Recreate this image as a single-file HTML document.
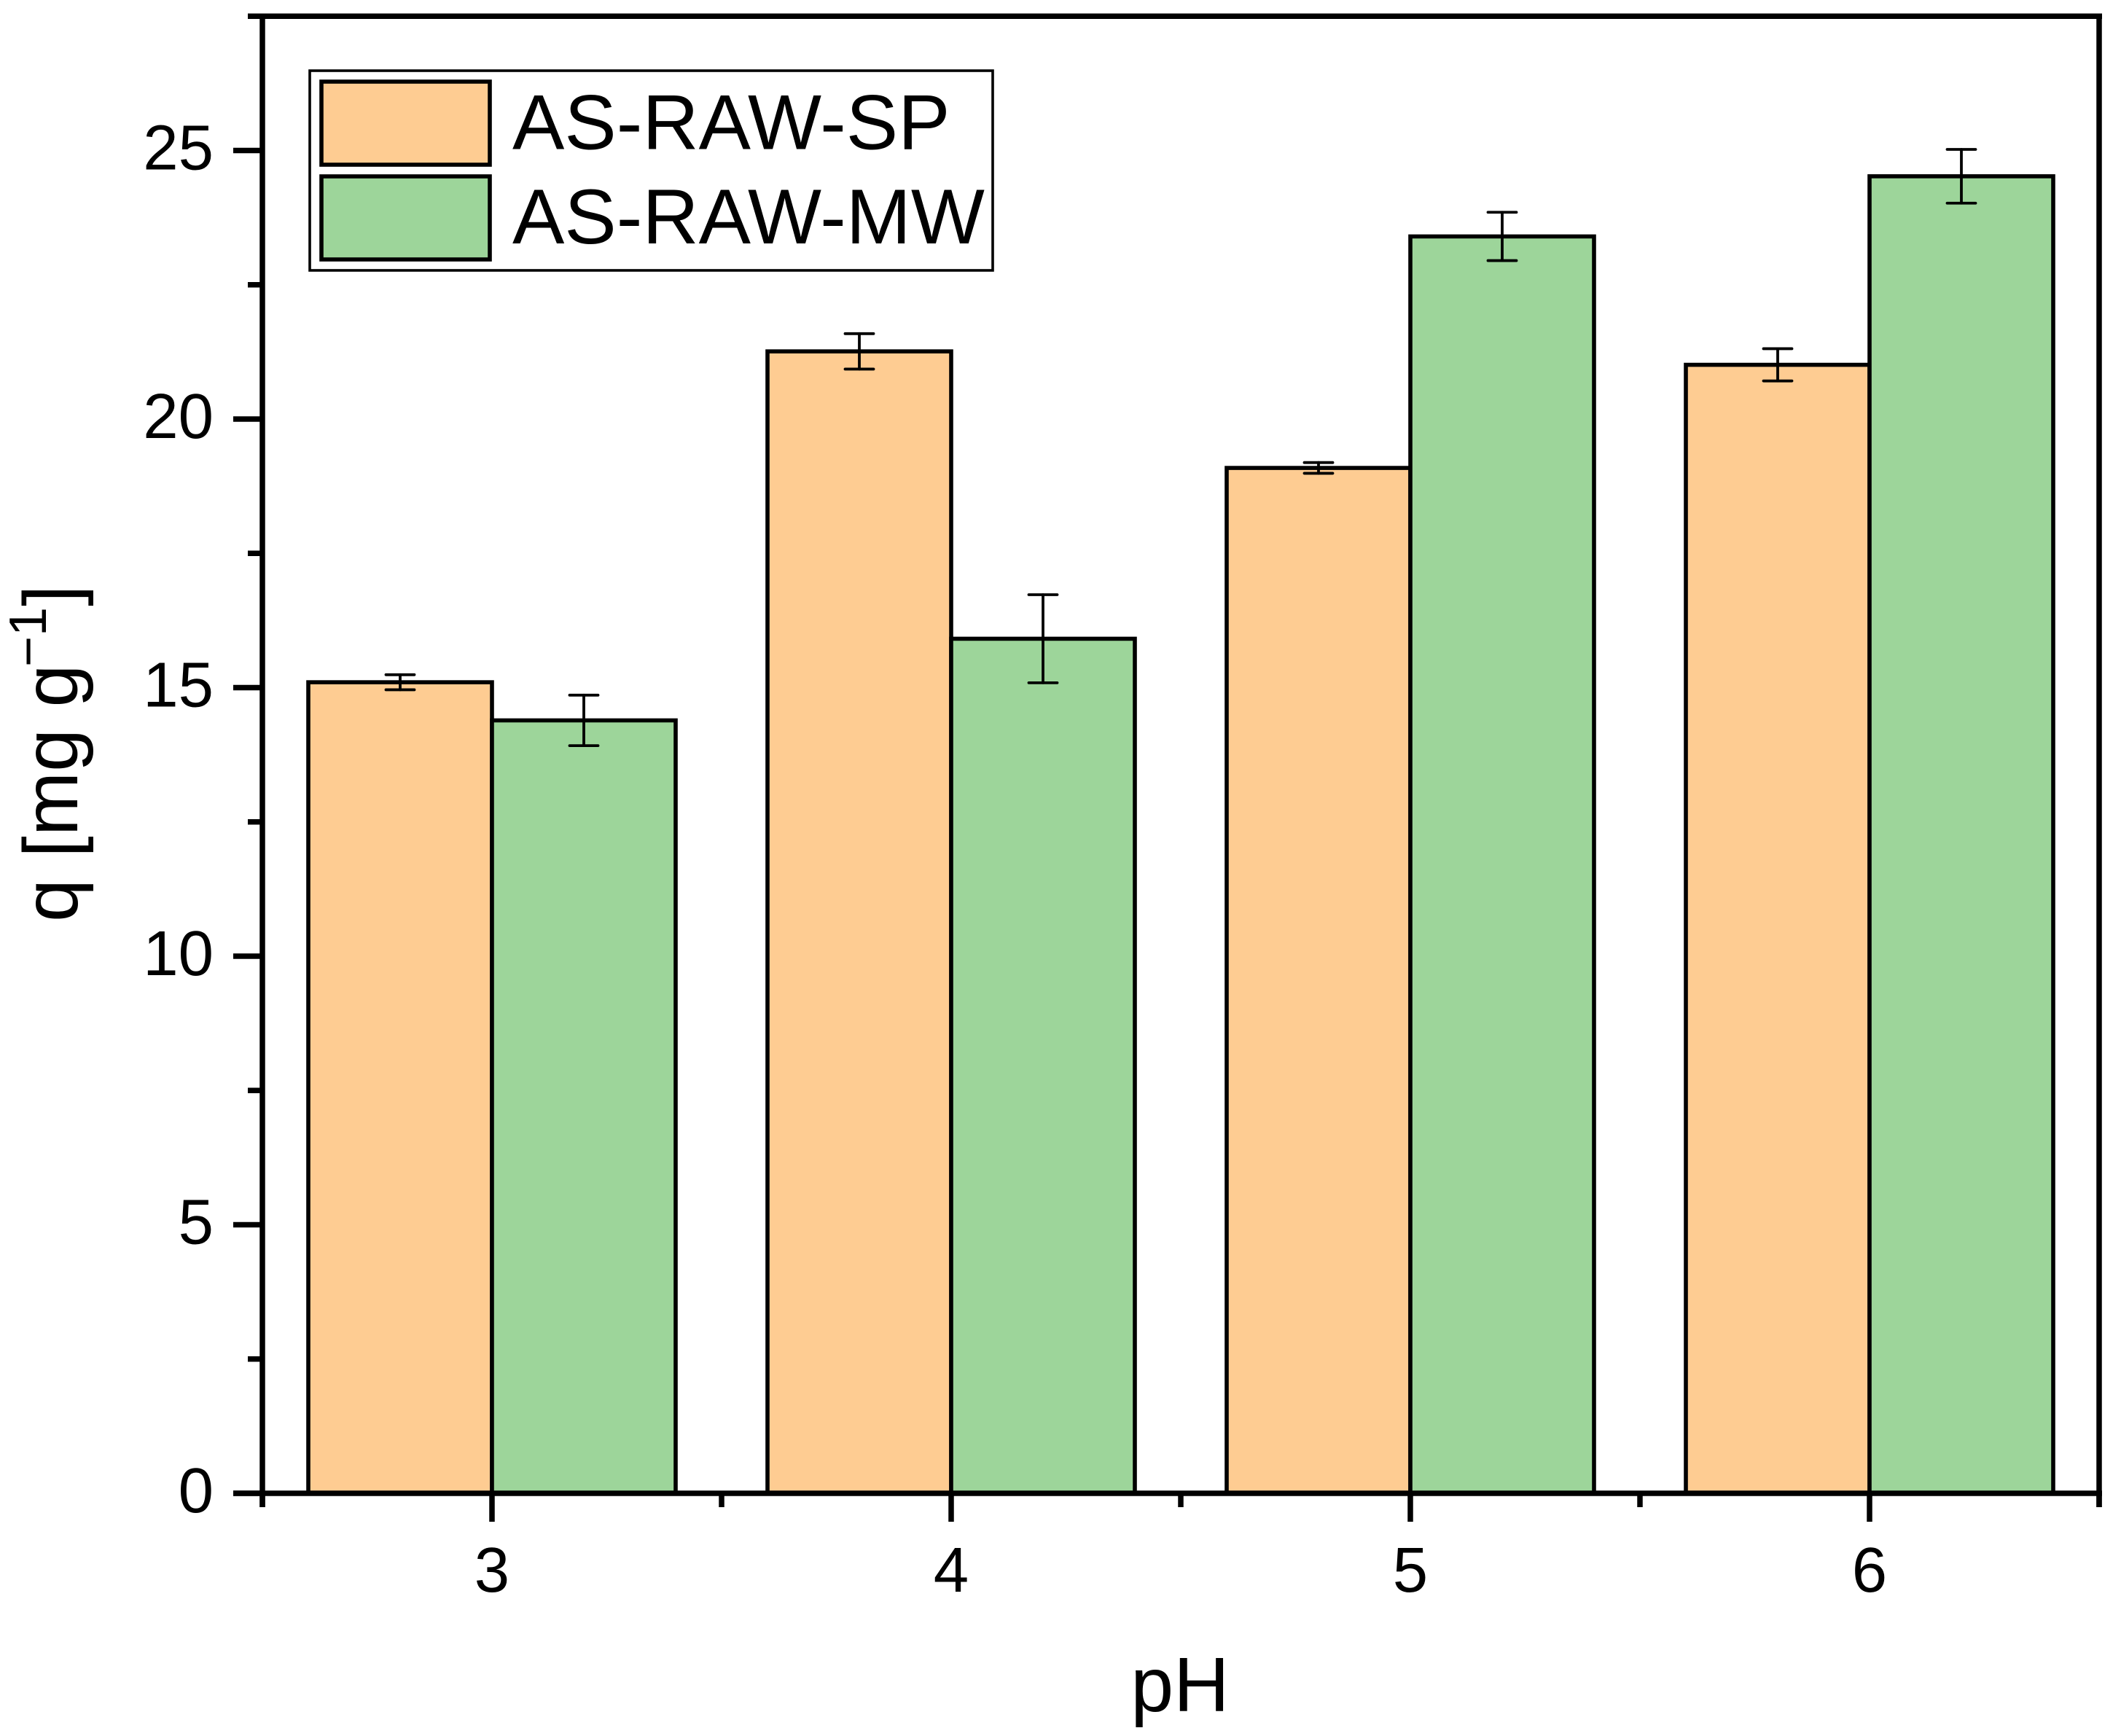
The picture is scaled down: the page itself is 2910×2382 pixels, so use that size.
<!DOCTYPE html>
<html lang="en">
<head>
<meta charset="utf-8">
<title>q vs pH bar chart</title>
<style>
html,body{margin:0;padding:0;background:#fff;}
svg{display:block;}
text{font-family:"Liberation Sans",Arial,sans-serif;fill:#000;}
</style>
</head>
<body>
<svg id="chart" xmlns="http://www.w3.org/2000/svg" width="2910" height="2382" viewBox="0 0 2910 2382">
  <rect x="0" y="0" width="2910" height="2382" fill="#ffffff"/>
  <g id="bars"></g>
  <g id="errors"></g>
  <g id="axes"></g>
  <g id="legend"></g>
  <text x="1619" y="2348" font-size="106" text-anchor="middle">pH</text>
  <g transform="translate(106,1265) rotate(-90)">
    <text x="0" y="0" font-size="106">q [mg g</text>
    <text x="350" y="-43" font-size="72">&#8722;1</text>
    <text x="433" y="0" font-size="106">]</text>
  </g>
</svg>
<script>
var categories = [3, 4, 5, 6];
var seriesNames = ['AS-RAW-SP', 'AS-RAW-MW'];
var spValues = [15.10, 21.26, 19.09, 21.01];
var spErrors = [0.14, 0.33, 0.10, 0.30];
var mwValues = [14.39, 15.91, 23.40, 24.52];
var mwErrors = [0.47, 0.82, 0.45, 0.50];
var yMajorTicks = [0, 5, 10, 15, 20, 25];
var yMinorTicks = [2.5, 7.5, 12.5, 17.5, 22.5, 27.5];
var xMinorTicks = [2.5, 3.5, 4.5, 5.5, 6.5];

var NS = 'http://www.w3.org/2000/svg';
var ORANGE = '#FECC92';
var GREEN = '#9DD59A';

function xScale(v) { return 675 + (v - 3) * 630; }
function yScale(v) { return 2049 - v * 73.7; }

function make(parent, tag, attrs) {
  var el = document.createElementNS(NS, tag);
  for (var k in attrs) { el.setAttribute(k, attrs[k]); }
  parent.appendChild(el);
  return el;
}

var barsLayer = document.getElementById('bars');
var errorsLayer = document.getElementById('errors');
var axesLayer = document.getElementById('axes');
var legendLayer = document.getElementById('legend');

var BAR_UNITS = 0.4;

function drawSeries(values, errors, color, offsetSign, key) {
  categories.forEach(function (cat, i) {
    var x0 = xScale(cat + (offsetSign < 0 ? -BAR_UNITS : 0));
    var x1 = xScale(cat + (offsetSign < 0 ? 0 : BAR_UNITS));
    var yTop = yScale(values[i]);
    var bar = make(barsLayer, 'rect', {
      x: x0, y: yTop, width: x1 - x0, height: yScale(0) - yTop,
      fill: color, stroke: '#000', 'stroke-width': 5.6, 'stroke-linejoin': 'miter'
    });
    
    

    var xc = (x0 + x1) / 2;
    var yHi = yScale(values[i] + errors[i]);
    var yLo = yScale(values[i] - errors[i]);
    var group = make(errorsLayer, 'g', { stroke: '#000', 'stroke-linecap': 'round' });
    
    
    make(group, 'line', { x1: xc, x2: xc, y1: yHi, y2: yLo, 'stroke-width': 3.8 });
    make(group, 'line', { x1: xc - 19.5, x2: xc + 19.5, y1: yHi, y2: yHi, 'stroke-width': 3.8 });
    make(group, 'line', { x1: xc - 19.5, x2: xc + 19.5, y1: yLo, y2: yLo, 'stroke-width': 3.8 });
  });
}

drawSeries(spValues, spErrors, ORANGE, -1, 'sp');
drawSeries(mwValues, mwErrors, GREEN, 1, 'mw');

function axisLine(name, x1, y1, x2, y2, w) {
  var line = make(axesLayer, 'line', { x1: x1, y1: y1, x2: x2, y2: y2, stroke: '#000', 'stroke-width': w });
  
  
}

var yBase = yScale(0);
var yCeil = yScale(27.5);
var xLeft = xScale(2.5);
var xRight = xScale(6.5);

axisLine('y-axis-left', xLeft, yCeil - 3.5, xLeft, yBase + 19, 7.5);
axisLine('axis-right', xRight, yCeil - 3.5, xRight, yBase + 19, 7.5);
axisLine('axis-top', xLeft - 20, yCeil, xRight + 4, yCeil, 7.6);
axisLine('x-axis-bottom', xLeft - 40, yBase, xRight + 4, yBase, 7.6);

yMajorTicks.forEach(function (v) {
  axisLine('y-major-tick-' + v, xLeft - 40, yScale(v), xLeft, yScale(v), 7.6);
  var t = make(axesLayer, 'text', { x: 293, y: yScale(v) + 26, 'font-size': 87, 'text-anchor': 'end' });
  
  
  t.textContent = String(v);
});

yMinorTicks.forEach(function (v) {
  axisLine('y-minor-tick-' + v, xLeft - 20, yScale(v), xLeft, yScale(v), 7.6);
});

categories.forEach(function (c) {
  axisLine('x-major-tick-' + c, xScale(c), yBase, xScale(c), yBase + 39, 7.5);
  var t = make(axesLayer, 'text', { x: xScale(c), y: 2184, 'font-size': 87, 'text-anchor': 'middle' });
  
  
  t.textContent = String(c);
});

xMinorTicks.forEach(function (v) {
  axisLine('x-minor-tick-' + v, xScale(v), yBase, xScale(v), yBase + 19, 7.5);
});

var legendBox = make(legendLayer, 'rect', { x: 425, y: 97, width: 937, height: 274, fill: '#fff', stroke: '#000', 'stroke-width': 3.6 });



var legendColors = [ORANGE, GREEN];
var legendSwatchTops = [112, 242];
var legendBaselines = [204.5, 334];

seriesNames.forEach(function (name, i) {
  var entry = make(legendLayer, 'g', {});
  
  
  var swatch = make(entry, 'rect', { x: 441, y: legendSwatchTops[i], width: 231, height: 114, fill: legendColors[i], stroke: '#000', 'stroke-width': 5.6 });
  
  
  var label = make(entry, 'text', { x: 703, y: legendBaselines[i], 'font-size': 107 });
  
  
  label.textContent = name;
});
</script>
</body>
</html>
